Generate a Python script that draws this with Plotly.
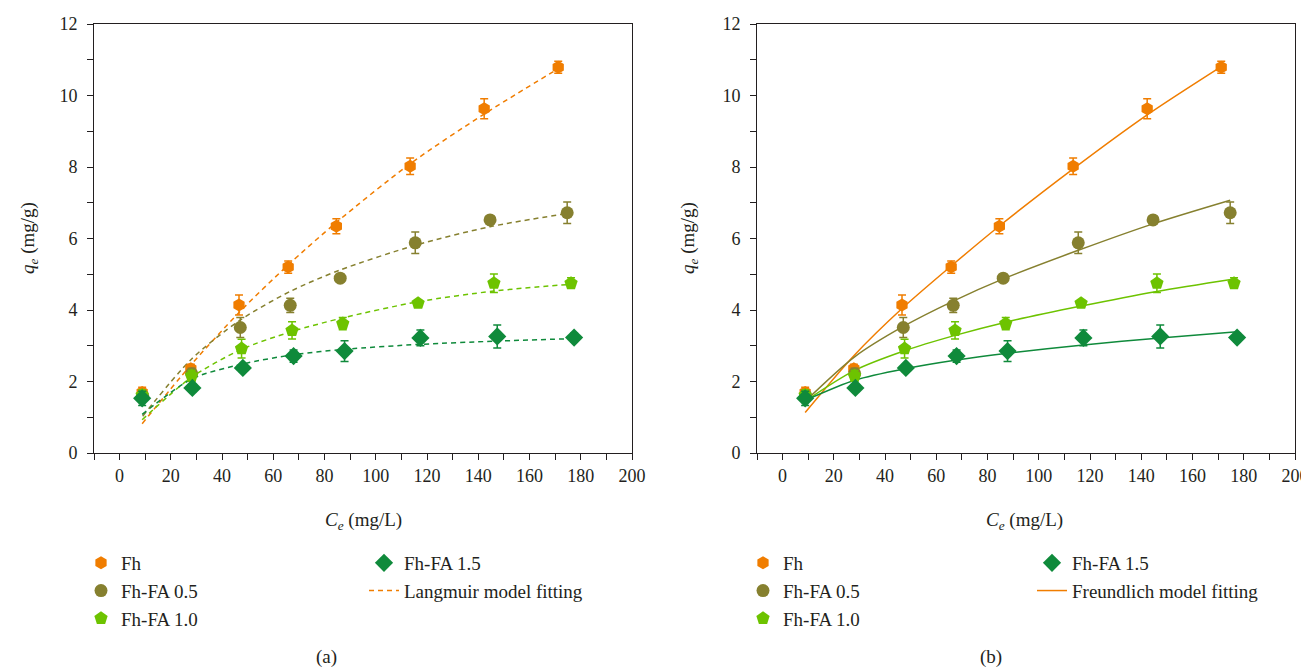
import plotly.graph_objects as go

# ---------------- data ----------------
ce_fh = [8.8, 27.8, 46.6, 65.8, 84.6, 113.4, 142.3, 171.2]
qe_fh = [1.69, 2.36, 4.14, 5.20, 6.34, 8.02, 9.63, 10.79]
err_fh = [0.15, 0.12, 0.28, 0.17, 0.21, 0.23, 0.28, 0.17]

ce_05 = [9.0, 28.1, 47.1, 66.6, 86.1, 115.4, 144.6, 174.7]
qe_05 = [1.60, 2.22, 3.51, 4.13, 4.89, 5.88, 6.52, 6.72]
err_05 = [0.12, 0.15, 0.28, 0.20, 0.10, 0.30, 0.08, 0.30]

ce_10 = [8.8, 28.1, 47.6, 67.3, 87.1, 116.5, 146.1, 176.2]
qe_10 = [1.62, 2.16, 2.92, 3.43, 3.62, 4.19, 4.75, 4.75]
err_10 = [0.15, 0.15, 0.26, 0.24, 0.17, 0.10, 0.26, 0.15]

ce_15 = [8.8, 28.4, 48.1, 67.9, 87.8, 117.4, 147.4, 177.4]
qe_15 = [1.53, 1.82, 2.38, 2.71, 2.85, 3.22, 3.26, 3.23]
err_15 = [0.20, 0.10, 0.12, 0.17, 0.29, 0.22, 0.32, 0.12]

# Langmuir fitted curves (panel a), read at the sample concentrations
lang_fh = [0.82, 2.46, 3.93, 5.26, 6.45, 8.09, 9.48, 10.75]
lang_05 = [1.03, 2.63, 3.72, 4.52, 5.12, 5.81, 6.33, 6.70]
lang_10 = [0.93, 2.12, 2.90, 3.40, 3.78, 4.23, 4.53, 4.72]
lang_15 = [1.08, 2.08, 2.49, 2.75, 2.90, 3.04, 3.13, 3.20]

# Freundlich fitted curves (panel b)
freu_fh = [1.13, 2.72, 4.04, 5.23, 6.35, 7.95, 9.46, 10.81]
freu_05 = [1.46, 2.69, 3.54, 4.25, 4.87, 5.67, 6.41, 7.07]
freu_10 = [1.45, 2.31, 2.86, 3.29, 3.66, 4.11, 4.52, 4.87]
freu_15 = [1.47, 2.04, 2.36, 2.60, 2.79, 3.02, 3.22, 3.39]

series_names = ["Fh", "Fh-FA 0.5", "Fh-FA 1.0", "Fh-FA 1.5"]
x_ticks = [0, 20, 40, 60, 80, 100, 120, 140, 160, 180, 200]
y_ticks = [0, 2, 4, 6, 8, 10, 12]

# ---------------- styling ----------------
FONT = "Liberation Serif, Times New Roman, DejaVu Serif, serif"
INK = "#231F20"
colors = ["#F07D00", "#86802F", "#6DC300", "#0F8A3B"]
symbols = ["hexagon", "circle", "pentagon", "diamond"]
sizes = [13, 13, 14, 14]

# the page body has an 8px margin, so the figure starts at (8, 8) on screen
OFF = 8
W, H = 1309 - OFF, 669 - OFF
def px_x(p):
    return (p - OFF) / W
def px_y(p):
    return 1 - (p - OFF) / H

ce_all = [ce_fh, ce_05, ce_10, ce_15]
qe_all = [qe_fh, qe_05, qe_10, qe_15]
err_all = [err_fh, err_05, err_10, err_15]
lang_all = [lang_fh, lang_05, lang_10, lang_15]
freu_all = [freu_fh, freu_05, freu_10, freu_15]

fig = go.Figure()

panels = [
    dict(xa="x", ya="y", fits=lang_all, dash="5px,4px", fitname="Langmuir model fitting",
         lg_pts=["legend", "legend", "legend", "legend2"], lg_line="legend2"),
    dict(xa="x2", ya="y2", fits=freu_all, dash="solid", fitname="Freundlich model fitting",
         lg_pts=["legend3", "legend3", "legend3", "legend4"], lg_line="legend4"),
]

for pi, p in enumerate(panels):
    for i in range(4):
        fig.add_trace(go.Scatter(
            x=ce_all[i], y=p["fits"][i], mode="lines",
            line=dict(color=colors[i], width=1.5, dash=p["dash"], shape="spline", smoothing=0.8),
            name=p["fitname"], showlegend=False, xaxis=p["xa"], yaxis=p["ya"],
            hoverinfo="skip",
        ))
    for i in range(4):
        fig.add_trace(go.Scatter(
            x=ce_all[i], y=qe_all[i], mode="markers",
            marker=dict(color=colors[i], symbol=symbols[i], size=sizes[i], line=dict(width=0)),
            error_y=dict(type="data", array=err_all[i], color=colors[i], thickness=1.5, width=4),
            name=series_names[i], legend=p["lg_pts"][i], legendgroup=f"g{pi}{i}",
            xaxis=p["xa"], yaxis=p["ya"],
        ))
    fig.add_trace(go.Scatter(
        x=[None], y=[None], mode="lines",
        line=dict(color=colors[0], width=1.5, dash=p["dash"]),
        name=p["fitname"], legend=p["lg_line"], legendgroup=f"fit{pi}",
        xaxis=p["xa"], yaxis=p["ya"],
    ))

axis_common = dict(
    showline=True, linecolor=INK, linewidth=1, mirror=True,
    ticks="outside", ticklen=6, tickwidth=1, tickcolor=INK,
    showgrid=False, zeroline=False, automargin=False,
    tickfont=dict(family=FONT, size=18, color=INK),
)
xminor = dict(dtick=10, ticklen=6, tickcolor=INK, ticks="outside")
yminor = dict(dtick=1, ticklen=6, tickcolor=INK, ticks="outside")

fig.update_layout(
    width=W, height=H,
    margin=dict(l=0, r=0, t=0, b=0, autoexpand=False),
    plot_bgcolor="white", paper_bgcolor="white",
    font=dict(family=FONT, color=INK),
    xaxis=dict(domain=[px_x(94), px_x(632)], range=[-10, 200], tickvals=x_ticks,
               minor=xminor, anchor="y", **axis_common),
    yaxis=dict(domain=[px_y(453), px_y(24)], range=[0, 12], tickvals=y_ticks,
               minor=yminor, anchor="x", ticklabelstandoff=6, **axis_common),
    xaxis2=dict(domain=[px_x(757), px_x(1295)], range=[-10, 200], tickvals=x_ticks,
                minor=xminor, anchor="y2", **axis_common),
    yaxis2=dict(domain=[px_y(453), px_y(24)], range=[0, 12], tickvals=y_ticks,
                minor=yminor, anchor="x2", ticklabelstandoff=6, **axis_common),
)

leg_common = dict(
    xanchor="left", yanchor="top", bgcolor="rgba(0,0,0,0)", borderwidth=0,
    font=dict(family=FONT, size=19, color=INK), tracegroupgap=0,
    itemclick=False, itemdoubleclick=False,
)
fig.update_layout(
    legend=dict(x=px_x(81), y=px_y(544), **leg_common),
    legend2=dict(x=px_x(364), y=px_y(544), **leg_common),
    legend3=dict(x=px_x(743), y=px_y(544), **leg_common),
    legend4=dict(x=px_x(1032), y=px_y(544), **leg_common),
)

txt = dict(family=FONT, size=19, color=INK)
ann = [
    dict(x=px_x(363), y=px_y(521), text="<i>C<sub>e</sub></i> (mg/L)"),
    dict(x=px_x(1024), y=px_y(521), text="<i>C<sub>e</sub></i> (mg/L)"),
    dict(x=px_x(29), y=px_y(238), text="<i>q<sub>e</sub></i> (mg/g)", textangle=-90),
    dict(x=px_x(689), y=px_y(238), text="<i>q<sub>e</sub></i> (mg/g)", textangle=-90),
    dict(x=px_x(326), y=px_y(657), text="(a)"),
    dict(x=px_x(991), y=px_y(657), text="(b)"),
]
for a in ann:
    a.update(xref="paper", yref="paper", showarrow=False, font=txt,
             xanchor="center", yanchor="middle")
fig.update_layout(annotations=ann)

fig.write_html("out.html")
